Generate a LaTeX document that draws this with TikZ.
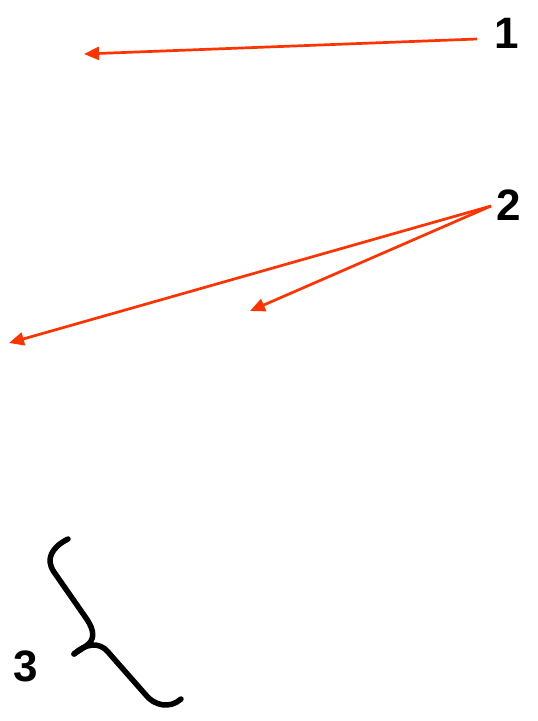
\documentclass[tikz,border=0pt]{standalone}
\usepackage{fontspec}
\setmainfont{Liberation Sans}
\usetikzlibrary{arrows.meta}
\definecolor{arrowred}{RGB}{255,51,0}
\tikzset{
  numlabel/.style={inner sep=0pt, font=\fontsize{44}{44}\selectfont\bfseries},
  pointer/.style={-{Triangle[length=15pt,width=13pt]}, arrowred, line width=2.7pt}
}

\begin{document}
\begin{tikzpicture}[x=1pt,y=-1pt]
    \useasboundingbox (0,0) rectangle (538,721);
    \node[numlabel] (one) at (507,33) {1};
    \node[numlabel] (two) at (509,205) {2};
    \node[numlabel] (three) at (26,666) {3};

    \coordinate (onestart) at (477,39);
    \coordinate (oneend) at (84,54);
    \coordinate (twostart) at (491,206);
    \coordinate (twoendl) at (9,343);
    \coordinate (twoendr) at (250,311);

    \draw [pointer] (onestart) -- (oneend);
    \draw [pointer] (twostart) -- (twoendl);
    \draw [pointer] (twostart) -- (twoendr);

    \draw [black, line width=5.5pt, line cap=round, line join=round]
      (68,539) .. controls (52,547) and (45,559) .. (54,572) -- (86,618)
      .. controls (95,631) and (95,640) .. (86,646) -- (74,654);
    \draw [black, line width=5.5pt, line cap=round, line join=round]
      (74,654) .. controls (85,644) and (99,641) .. (108,652) -- (145,694)
      .. controls (154,706) and (170,709) .. (181,699);
  \end{tikzpicture}
\end{document}
